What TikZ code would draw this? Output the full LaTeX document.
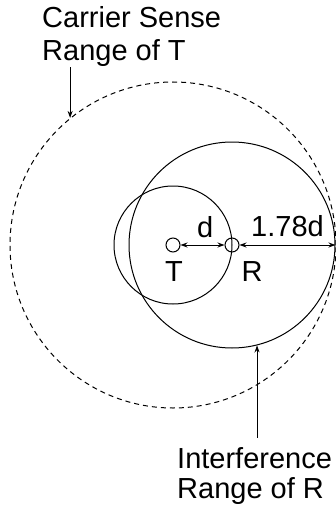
\documentclass[tikz,border=0pt]{standalone}
\usepackage{fontspec}
\setmainfont{Liberation Sans}
\usetikzlibrary{arrows.meta}
\begin{document}
\begin{tikzpicture}[x=1pt,y=-1pt,
  lbl/.style={font=\fontsize{29}{31}\selectfont, inner sep=0pt, anchor=base west},
  clbl/.style={lbl, anchor=base},
  dot/.style={circle, draw, minimum size=14pt, inner sep=0pt, line width=1pt},
  ring/.style={circle, draw, inner sep=0pt, line width=1pt},
  cs/.style={ring, dash pattern=on 5pt off 4pt},
  arr/.style={line width=1pt, -{Stealth[length=7pt,width=5pt]}},
  darr/.style={line width=1pt, {Stealth[length=7pt,width=5pt]}-{Stealth[length=7pt,width=5pt]}}]
\fill[white] (0,0) rectangle (336,508);
\useasboundingbox (0,0) rectangle (336,508);
% stations
\node[dot] (T) at (173,245) {};
\node[dot] (R) at (232,245) {};
% ranges
\node[ring, minimum size=118pt] (rT) at (T) {};
\node[ring, minimum size=206pt] (ir) at (R) {};
\node[cs, minimum size=326pt] (csr) at (T) {};
% distance arrows
\draw[darr] (T) -- (R);
\draw[darr] (R) -- (ir.east);
\node[lbl] (dl) at (197,237) {d};
\node[lbl] (ml) at (251,236) {1.78d};
\node[clbl] (Tl) at (174,281) {T};
\node[clbl] (Rl) at (252,281) {R};
% carrier sense label
\node[lbl] (cs1) at (42,28) {Carrier Sense};
\node[lbl] (cs2) at (42,61) {Range of T};
\draw[arr] (cs2.south -| csr.129.3) -- (csr.129.3);
% interference label
\node[lbl] (if1) at (177,468) {Interference};
\node[lbl] (if2) at (177,498) {Range of R};
\draw[arr] ([yshift=9pt]if1.north -| ir.-76.8) -- (ir.-76.8);
\end{tikzpicture}
\end{document}
